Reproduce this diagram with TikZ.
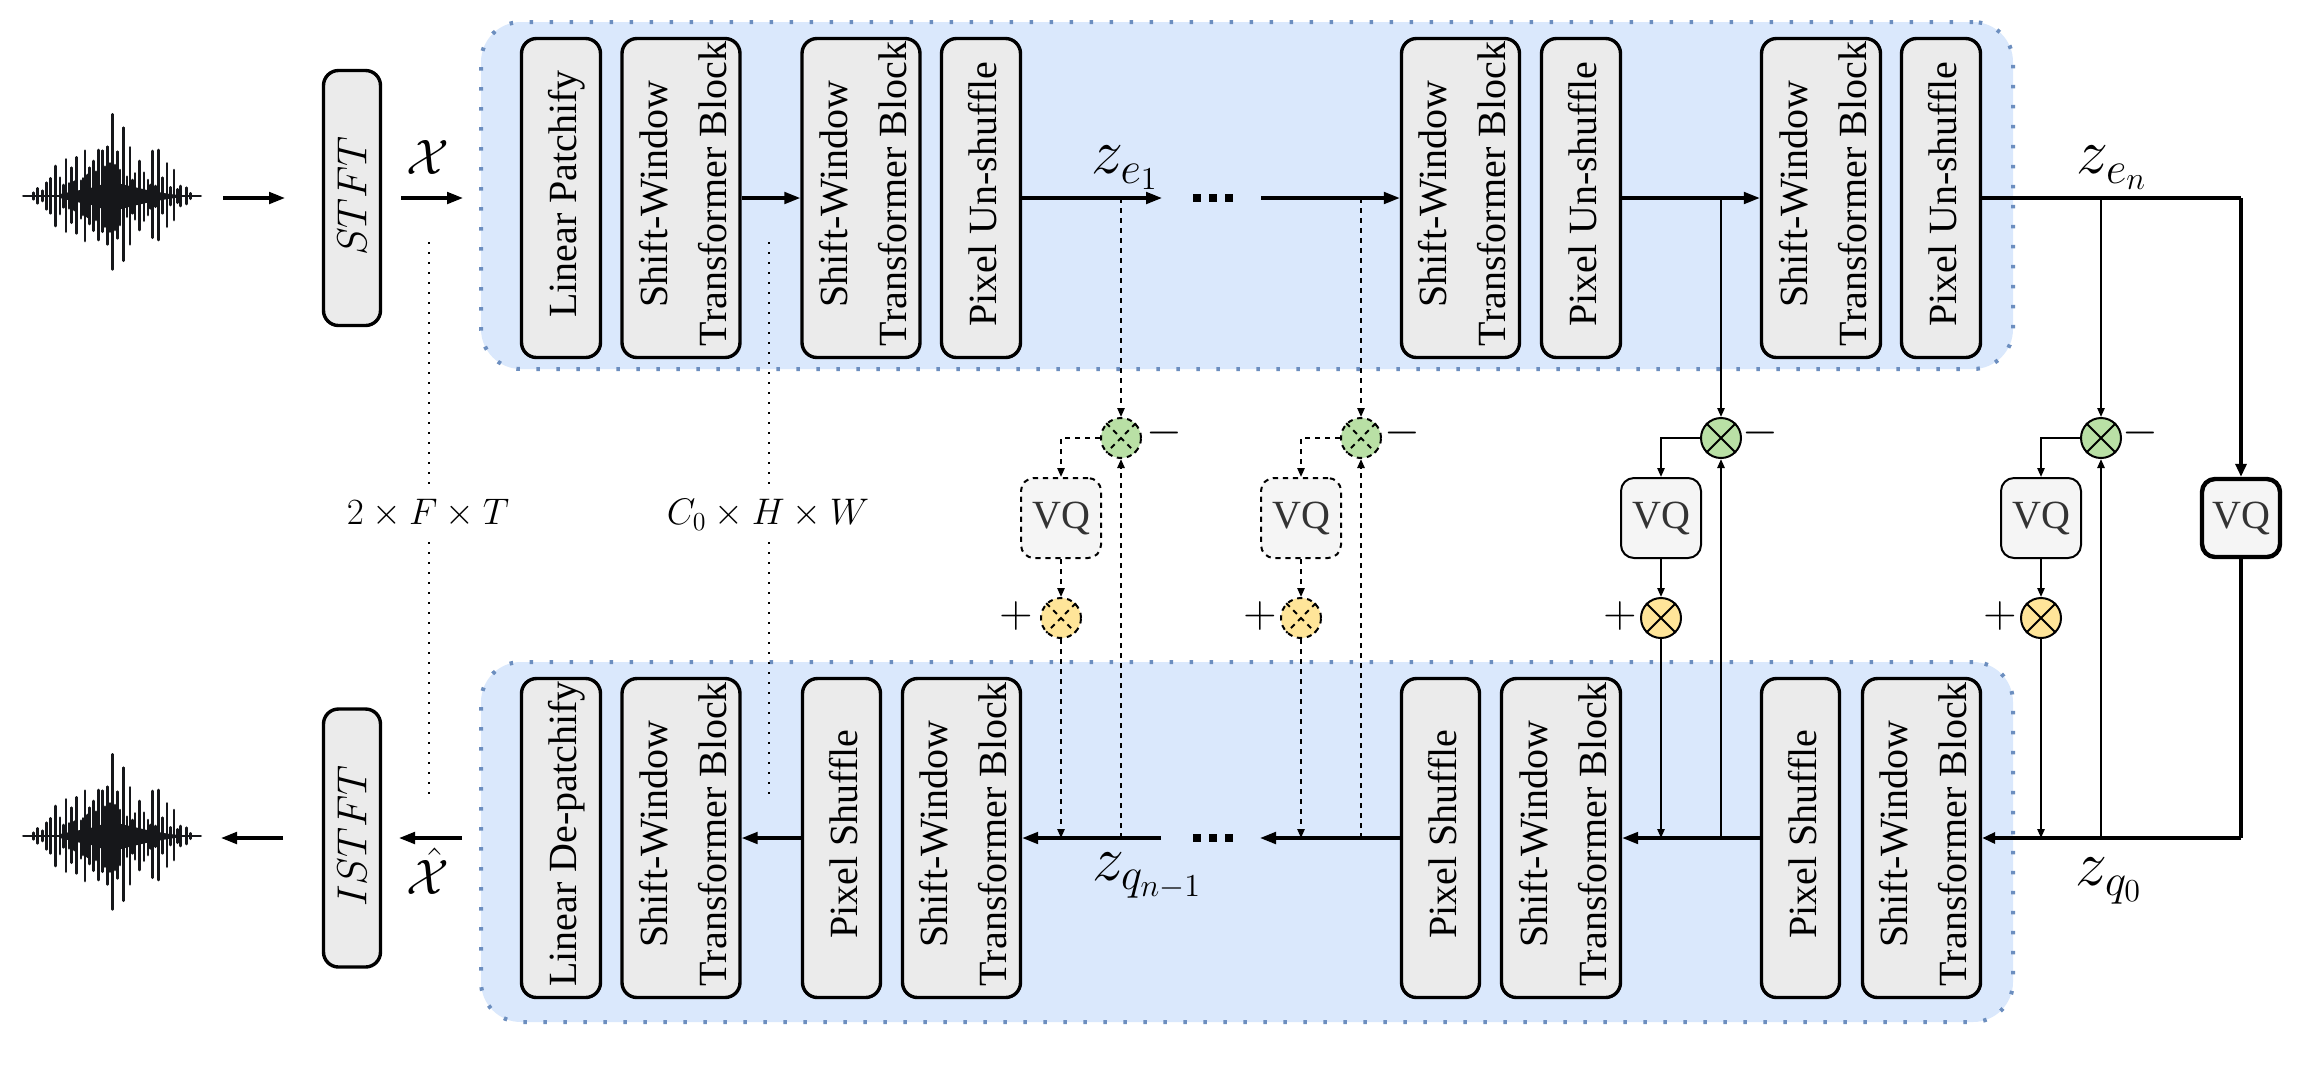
\RequirePackage{fix-cm}
\documentclass[tikz,border=0pt]{standalone}
\usepackage{graphicx}
\usepackage{fontspec}
\usepackage{amsmath}
\newfontfamily\vqfont{Liberation Serif}
\usetikzlibrary{arrows.meta}
\definecolor{bandfill}{HTML}{DAE8FC}
\definecolor{banddots}{HTML}{6C8EBF}
\definecolor{boxfill}{HTML}{EBEBEB}
\definecolor{vqfill}{HTML}{F5F5F5}
\definecolor{vqtext}{HTML}{333333}
\definecolor{greenfill}{HTML}{B9E0A5}
\definecolor{yellowfill}{HTML}{FFE599}
\definecolor{wavecol}{HTML}{16171A}
\tikzset{
  band/.style={rectangle,rounded corners=20pt,fill=bandfill,draw=banddots,line width=2pt,dash pattern=on 1.75pt off 8.25pt,inner sep=0pt},
  blockbox/.style={rectangle,rounded corners=7.5pt,draw=black,fill=boxfill,line width=1.7pt,inner sep=0pt,font=\vqfont\fontsize{20}{29.5}\selectfont},
  vqbox/.style={rectangle,rounded corners=6.5pt,draw=black,fill=vqfill,line width=1pt,inner sep=0pt,text=vqtext,font=\vqfont\fontsize{20}{24}\selectfont,minimum width=40pt,minimum height=40pt},
  vqdash/.style={vqbox,dashstyle},
  vqthick/.style={vqbox,line width=2.2pt,minimum width=39pt,minimum height=39pt},
  dashstyle/.style={dash pattern=on 2.6pt off 2.4pt},
  mulgreen/.style={circle,draw=black,fill=greenfill,line width=1pt,minimum size=20pt,inner sep=0pt},
  mulyellow/.style={circle,draw=black,fill=yellowfill,line width=1pt,minimum size=20pt,inner sep=0pt},
  mainarrow/.style={line width=1.6pt,-{Triangle[length=8pt,width=5.8pt]}},
  mainline/.style={line width=1.6pt},
  thickarrow/.style={line width=2pt,-{Triangle[length=6.5pt,width=5.5pt]}},
  thickline/.style={line width=2pt},
  thinarrow/.style={line width=1pt,-{Triangle[length=4.5pt,width=3.6pt]}},
  thinline/.style={line width=1pt},
  sizedots/.style={line width=1.2pt,dash pattern=on 1.2pt off 3.8pt,black},
  sizelabel/.style={fill=white,inner xsep=1pt,inner ysep=4pt,font=\fontsize{18.5}{22}\selectfont},
  dotsq/.style={rectangle,fill=black,minimum size=4pt,inner sep=0pt},
  pmsign/.style={inner sep=0pt,font=\fontsize{23}{26}\selectfont},
  zlabel/.style={inner sep=0pt,font=\fontsize{32}{36}\selectfont},
  xlabel/.style={inner sep=0pt,font=\fontsize{24.9}{28}\selectfont},
  wavebar/.style={line width=1.35pt,line cap=round,wavecol},
}
\newcommand\vtext[2][2pt]{\kern2pt\raisebox{#1}[\height][\depth]{\rotatebox{90}{\begin{tabular}{@{}c@{}}#2\end{tabular}}}\kern-2pt}
\newcommand\blk[6]{\node[blockbox,minimum width={(#3-#2-3)*0.5pt},minimum height={(#5-#4-3)*0.5pt}] (#1) at ({(#2+#3)/2},{(#4+#5)/2}) {\vtext{#6}};}
\newcommand\crossed[1]{\draw[thinline] (#1.45) -- (#1.225) (#1.135) -- (#1.315);}
\newcommand\crosseddash[1]{\draw[thinline,dashstyle] (#1.45) -- (#1.225) (#1.135) -- (#1.315);}
\newcommand\waveform[2]{%
  \begin{scope}[shift={(#1,#2)},x=0.1667pt,y=-0.1667pt]
    \draw[wavebar] (40,288) -- (572,288);
    \fill[wavecol] (150,282) -- (200,272) -- (250,262) -- (300,245) -- (360,258) -- (420,272) -- (480,282) -- (520,286)
      -- (520,290) -- (480,296) -- (420,306) -- (360,320) -- (300,335) -- (250,316) -- (200,306) -- (150,294) -- cycle;
    \foreach \x/\t/\b in {70/278/298,83/265/310,97/272/303,110/248/328,122/235/340,137/198/378,150/233/342,161/255/322,168/178/395,177/250/325,185/203/368,193/245/330,200/172/400,213/242/355,219/235/345,225/152/423,232/225/350,238/203/372,251/183/392,258/215/360,265/150/420,277/152/395,285/200/380,292/140/433,300/190/395,307/43/508,315/195/390,322/155/415,330/210/375,341/83/482,351/230/350,360/142/433,367/240/340,375/220/358,388/183/390,402/218/362,414/240/345,421/255/325,428/153/413,436/258/320,445/150/420,458/233/340,471/190/380,482/262/315,492/210/360,502/268/308,511/258/318,529/263/312,542/280/296}
      {\draw[wavebar] (\x,\t) -- (\x,\b);}
  \end{scope}}
\begin{document}
\begin{tikzpicture}[x=0.5pt,y=-0.5pt]
\useasboundingbox (0,0) rectangle (2304,1084);
\fill[white] (0,0) rectangle (2304,1084);

% bands
\node[band,minimum width=766pt,minimum height=173.5pt] (enc) at (1247,195.5) {};
\node[band,minimum width=766pt,minimum height=180pt] (dec) at (1247,842) {};

% waveforms
\waveform{10}{100}
\waveform{10}{740}

% encoder blocks
\blk{e1}{520}{602}{37}{359}{Linear Patchify}
\blk{e2}{621}{741}{37}{359}{Shift-Window\\Transformer Block}
\blk{e3}{801}{921}{37}{359}{Shift-Window\\Transformer Block}
\blk{e4}{940}{1022}{37}{359}{Pixel Un-shuffle}
\blk{e5}{1400}{1521}{37}{359}{Shift-Window\\Transformer Block}
\blk{e6}{1540}{1622}{37}{359}{Pixel Un-shuffle}
\blk{e7}{1760}{1882}{37}{359}{Shift-Window\\Transformer Block}
\blk{e8}{1900}{1982}{37}{359}{Pixel Un-shuffle}

% decoder blocks
\blk{d1}{520}{602}{677}{999}{Linear De-patchify}
\blk{d2}{621}{741}{677}{999}{Shift-Window\\Transformer Block}
\blk{d3}{801}{882}{677}{999}{Pixel Shuffle}
\blk{d4}{901}{1022}{677}{999}{Shift-Window\\Transformer Block}
\blk{d5}{1400}{1481}{677}{999}{Pixel Shuffle}
\blk{d6}{1500}{1622}{677}{999}{Shift-Window\\Transformer Block}
\blk{d7}{1760}{1841}{677}{999}{Pixel Shuffle}
\blk{d8}{1861}{1982}{677}{999}{Shift-Window\\Transformer Block}

% STFT
\node[blockbox,minimum width=28.5pt,minimum height=127.5pt] (stft) at (352,198) {\fontsize{21}{24}\selectfont\raisebox{1pt}[\height][\depth]{\rotatebox{90}{$STFT$}}};
\node[blockbox,minimum width=28.5pt,minimum height=129pt] (istft) at (352,838) {\fontsize{21}{24}\selectfont\raisebox{1pt}[\height][\depth]{\rotatebox{90}{$ISTFT$}}};

% free ends
\coordinate (a1) at (223,198);
\coordinate (a2) at (285,198);
\coordinate (a3) at (401,198);
\coordinate (a4) at (463,198);
\coordinate (b1) at (283,838);
\coordinate (b2) at (221,838);
\coordinate (b3) at (462,838);
\coordinate (b4) at (399,838);
\coordinate (t1) at (1162,198);
\coordinate (t2) at (1261,198);
\coordinate (u2) at (1260,838);
\coordinate (u3) at (1161,838);
\coordinate (tc) at (2241,198);
\coordinate (bc) at (2241,838);

% size guides
\coordinate (s1) at (429,242);
\coordinate (s2) at (429,797);
\coordinate (s3) at (769,242);
\coordinate (s4) at (769,797);
\draw[sizedots] (s1) -- (s2);
\draw[sizedots] (s3) -- (s4);
\node[sizelabel] (l1) at (428,513) {$2\times F\times T$};
\node[sizelabel] (l2) at (768,515) {$C_0\times H\times W$};

% dashed VQ groups
\node[mulgreen,dashstyle] (g1) at (1121,438) {};
\node[mulgreen,dashstyle] (g2) at (1361,438) {};
\node[mulyellow,dashstyle] (y1) at (1061,618) {};
\node[mulyellow,dashstyle] (y2) at (1301,618) {};
\node[vqdash] (v1) at (1061,518) {\raisebox{-0.8pt}{VQ}};
\node[vqdash] (v2) at (1301,518) {\raisebox{-0.8pt}{VQ}};
\crosseddash{g1}\crosseddash{g2}\crosseddash{y1}\crosseddash{y2}

% solid VQ groups
\node[mulgreen] (g3) at (1721,438) {};
\node[mulgreen] (g4) at (2101,438) {};
\node[mulyellow] (y3) at (1661,618) {};
\node[mulyellow] (y4) at (2041,618) {};
\node[vqbox] (v3) at (1661,518) {\raisebox{-0.8pt}{VQ}};
\node[vqbox] (v4) at (2041,518) {\raisebox{-0.8pt}{VQ}};
\node[vqthick] (v5) at (2241,518) {\raisebox{-0.8pt}{VQ}};
\crossed{g3}\crossed{g4}\crossed{y3}\crossed{y4}

% signs
\node[pmsign] (m1) at (1164,433) {$-$};
\node[pmsign] (m2) at (1402,433) {$-$};
\node[pmsign] (m3) at (1760,433) {$-$};
\node[pmsign] (m4) at (2140,433) {$-$};
\node[pmsign] (p1) at (1016,616) {$+$};
\node[pmsign] (p2) at (1260,616) {$+$};
\node[pmsign] (p3) at (1620,616) {$+$};
\node[pmsign] (p4) at (2000,616) {$+$};

% labels
\node[xlabel] (xa) at (428,157) {$\mathcal{X}$};
\node[xlabel] (xb) at (428,871) {$\hat{\mathcal{X}}$};
\node[zlabel] (z1) at (1125,168) {$z_{e_1}$};
\node[zlabel] (z2) at (2112,168) {$z_{e_n}$};
\node[zlabel] (z3) at (1147,876) {$z_{q_{n-1}}$};
\node[zlabel] (z4) at (2109,881) {$z_{q_0}$};

% ellipsis squares
\node[dotsq] (q1) at (1197,198) {};
\node[dotsq] (q2) at (1213,198) {};
\node[dotsq] (q3) at (1229,198) {};
\node[dotsq] (r1) at (1197,838) {};
\node[dotsq] (r2) at (1213,838) {};
\node[dotsq] (r3) at (1229,838) {};

% main connectors, top
\draw[mainarrow] (a1) -- (a2);
\draw[mainarrow] (a3) -- (a4);
\draw[mainarrow] (e2.east) -- (e3.west);
\draw[mainarrow] (e4.east) -- (t1);
\draw[mainarrow] (t2) -- (e5.west);
\draw[mainarrow] (e6.east) -- (e7.west);
\draw[thickline] (e8.east) -- (tc);
\draw[thickarrow,line join=miter] (tc) -- (v5.north);

% main connectors, bottom
\draw[thickline] (v5.south) -- (bc);
\draw[thickarrow] (bc) -- (d8.east);
\draw[mainarrow] (d7.west) -- (d6.east);
\draw[mainarrow] (d5.west) -- (u2);
\draw[mainarrow] (u3) -- (d4.east);
\draw[mainarrow] (d3.west) -- (d2.east);
\draw[mainarrow] (b3) -- (b4);
\draw[mainarrow] (b1) -- (b2);

% dashed branches
\draw[thinarrow,dashstyle] (g1 |- e4.east) -- (g1.north);
\draw[thinarrow,dashstyle] (g1.west) -| (v1.north);
\draw[thinarrow,dashstyle] (v1.south) -- (y1.north);
\draw[thinarrow,dashstyle] (y1.south) -- (y1 |- d4.east);
\draw[thinarrow,dashstyle] (g1 |- d4.east) -- (g1.south);
\draw[thinarrow,dashstyle] (g2 |- e5.west) -- (g2.north);
\draw[thinarrow,dashstyle] (g2.west) -| (v2.north);
\draw[thinarrow,dashstyle] (v2.south) -- (y2.north);
\draw[thinarrow,dashstyle] (y2.south) -- (y2 |- d5.west);
\draw[thinarrow,dashstyle] (g2 |- d5.west) -- (g2.south);

% solid branches
\draw[thinarrow] (g3 |- e6.east) -- (g3.north);
\draw[thinarrow] (g3.west) -| (v3.north);
\draw[thinarrow] (v3.south) -- (y3.north);
\draw[thinarrow] (y3.south) -- (y3 |- d6.east);
\draw[thinarrow] (g3 |- d6.east) -- (g3.south);
\draw[thinarrow] (g4 |- e8.east) -- (g4.north);
\draw[thinarrow] (g4.west) -| (v4.north);
\draw[thinarrow] (v4.south) -- (y4.north);
\draw[thinarrow] (y4.south) -- (y4 |- d8.east);
\draw[thinarrow] (g4 |- d8.east) -- (g4.south);
\end{tikzpicture}
\end{document}
